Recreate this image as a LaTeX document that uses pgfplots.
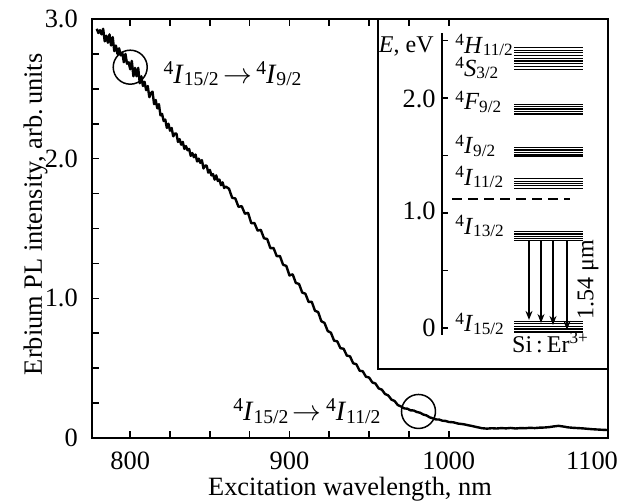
\documentclass[border=0pt]{standalone}
\usepackage{fontspec}
\setmainfont{Liberation Serif}
\usepackage{pgfplots}
\pgfplotsset{compat=1.18}
\usetikzlibrary{arrows.meta}
\newcommand{\scr}[1]{{\fontsize{9.8}{10}\selectfont #1}}
\newcommand{\lvl}[2]{{\fontsize{14}{16}\selectfont\raisebox{0.31em}{\scr{4}}\textit{#1}\raisebox{-0.085em}{\scr{#2}}}}
\newcommand{\sscr}[1]{{\fontsize{8.6}{9}\selectfont #1}}
\newcommand{\ilvl}[2]{{\fontsize{12.3}{14}\selectfont\raisebox{0.31em}{\sscr{4}}\textit{#1}\raisebox{-0.085em}{\sscr{#2}}}}
\begin{document}
\fontsize{13.2}{15}\selectfont
\begin{tikzpicture}
% ---------- inset: energy levels ----------
\begin{axis}[at={(143pt,34.5pt)}, anchor=south west, scale only axis,
  width=115pt, height=175pt, xmin=0, xmax=230, ymin=-0.357, ymax=2.687,
  xtick=\empty, ytick=\empty, axis line style={line width=1pt},
  clip=false, unbounded coords=jump]
% energy axis
\addplot[line width=1pt, no marks] coordinates {(64,-0.06) (64,2.565)};
\addplot[line width=0.8pt, no marks] table {
64 0
70 0
nan nan
64 0.5
70 0.5
nan nan
64 1.0
70 1.0
nan nan
64 1.5
70 1.5
nan nan
64 2.0
70 2.0
nan nan
64 2.5
70 2.5
};
% levels
\addplot[line width=0.55pt, no marks] table {
136 2.437
205 2.437
nan nan
136 2.414
205 2.414
nan nan
136 2.394
205 2.394
nan nan
136 2.371
205 2.371
nan nan
136 2.345
205 2.345
nan nan
136 2.322
205 2.322
nan nan
136 2.298
205 2.298
nan nan
136 2.275
205 2.275
nan nan
136 2.249
205 2.249
nan nan
136 1.945
205 1.945
nan nan
136 1.925
205 1.925
nan nan
136 1.904
205 1.904
nan nan
136 1.883
205 1.883
nan nan
136 1.861
205 1.861
nan nan
136 1.568
205 1.568
nan nan
136 1.548
205 1.548
nan nan
136 1.526
205 1.526
nan nan
136 1.504
205 1.504
nan nan
136 1.489
205 1.489
nan nan
136 1.296
205 1.296
nan nan
136 1.275
205 1.275
nan nan
136 1.255
205 1.255
nan nan
136 1.235
205 1.235
nan nan
136 1.215
205 1.215
nan nan
136 0.837
205 0.837
nan nan
136 0.817
205 0.817
nan nan
136 0.796
205 0.796
nan nan
136 0.778
205 0.778
nan nan
136 0.759
205 0.759
nan nan
136 0.055
205 0.055
nan nan
136 0.035
205 0.035
nan nan
136 0.013
205 0.013
nan nan
136 -0.009
205 -0.009
nan nan
136 -0.030
205 -0.030
nan nan
136 -0.043
205 -0.043
};
% silicon band gap
\addplot[line width=0.7pt, dash pattern=on 5pt off 3pt, no marks] coordinates {(74,1.122) (192,1.122)};
% transitions
\addplot[line width=0.6pt, -{Stealth[length=4.5pt,width=3.5pt]}] coordinates {(151,0.759) (151,0.07)};
\addplot[line width=0.6pt, -{Stealth[length=4.5pt,width=3.5pt]}] coordinates {(163,0.759) (163,0.043)};
\addplot[line width=0.6pt, -{Stealth[length=4.5pt,width=3.5pt]}] coordinates {(175,0.759) (175,0.026)};
\addplot[line width=0.6pt, -{Stealth[length=4.5pt,width=3.5pt]}] coordinates {(189,0.759) (189,-0.017)};
% labels
\node[anchor=east, inner sep=0pt, font=\fontsize{12}{14}\selectfont] at (axis cs:56,2.45) {\textit{E}, eV};
\node[anchor=east, inner sep=0pt] at (axis cs:58,1.99) {2.0};
\node[anchor=east, inner sep=0pt] at (axis cs:58,1.017) {1.0};
\node[anchor=east, inner sep=0pt] at (axis cs:58,0.004) {0};
\node[anchor=base west, inner sep=0pt] at (axis cs:77,2.39) {\ilvl{H}{11/2}};
\node[anchor=base west, inner sep=0pt] at (axis cs:77,2.19) {\ilvl{S}{3/2}};
\node[anchor=base west, inner sep=0pt] at (axis cs:77,1.896) {\ilvl{F}{9/2}};
\node[anchor=base west, inner sep=0pt] at (axis cs:77,1.513) {\ilvl{I}{9/2}};
\node[anchor=base west, inner sep=0pt] at (axis cs:77,1.243) {\ilvl{I}{11/2}};
\node[anchor=base west, inner sep=0pt] at (axis cs:77,0.817) {\ilvl{I}{13/2}};
\node[anchor=base west, inner sep=0pt] at (axis cs:77,-0.035) {\ilvl{I}{15/2}};
\node[rotate=90, inner sep=0pt, font=\fontsize{12}{14}\selectfont] at (axis cs:210,0.42) {1.54 μm};
\node[anchor=base, inner sep=0pt, font=\fontsize{12}{14}\selectfont] at (axis cs:172,-0.215) {Si\,:\,Er\raisebox{0.40em}{\sscr{3+}}};
\end{axis}
% ---------- main axis ----------
\begin{axis}[at={(0pt,0pt)}, anchor=south west, scale only axis,
  width=258pt, height=209.5pt,
  xmin=776, xmax=1100, ymin=0, ymax=3,
  xtick={800,900,1000}, xticklabels={800,900,1000},
  extra x ticks={1100}, extra x tick labels={1100},
  extra x tick style={xticklabel style={xshift=-8pt}},
  minor x tick num=3,
  ytick={0,1,2,3}, yticklabels={0,1.0,2.0,3.0}, minor y tick num=3,
  ytick pos=left, xtick pos=both, tick align=inside,
  major tick length=3.5pt, minor tick length=3.5pt,
  tick style={line width=0.8pt, black},
  axis line style={line width=1pt},
  /pgf/number format/assume math mode=true,
  xticklabel style={yshift=-2.5pt},
  yticklabel style={xshift=-2.5pt},
  xlabel={Excitation wavelength, nm},
  ylabel={Erbium PL intensity, arb.\,units},
  xlabel style={at={(axis description cs:0.5,0)}, yshift=-28.5pt, anchor=base},
  ylabel style={at={(axis description cs:-0.097,0.534)}, anchor=base},
  clip=false]
\addplot[line width=1.2pt, line join=round, no marks] table {
779 2.93
780 2.90
781 2.92
782 2.89
783 2.93
784 2.84
785 2.88
786 2.83
787 2.89
788 2.81
789 2.87
790 2.77
791 2.81
792 2.75
793 2.79
794 2.74
795 2.76
796 2.69
797 2.75
798 2.68
799 2.69
800 2.64
801 2.70
802 2.59
803 2.65
804 2.59
805 2.65
806 2.54
807 2.59
808 2.52
809 2.55
810 2.49
811 2.52
812 2.44
813 2.47
814 2.48
815 2.39
816 2.42
817 2.36
818 2.39
819 2.31
820 2.32
821 2.27
822 2.28
823 2.22
824 2.25
825 2.20
826 2.22
827 2.16
828 2.18
829 2.18
830 2.12
831 2.14
832 2.10
833 2.12
834 2.07
835 2.09
836 2.06
837 2.07
838 2.02
839 2.04
840 2.01
841 2.03
842 1.98
843 2.00
844 1.97
845 1.99
846 1.93
847 1.95
848 1.95
849 1.90
850 1.92
851 1.88
852 1.89
853 1.85
854 1.88
855 1.84
856 1.85
857 1.81
858 1.83
859 1.79
860 1.80
862 1.785
864 1.720
866 1.715
868 1.655
870 1.660
872 1.606
874 1.612
876 1.538
878 1.539
880 1.485
882 1.490
884 1.430
886 1.425
888 1.360
890 1.360
892 1.302
894 1.303
896 1.240
898 1.232
900 1.164
902 1.172
904 1.110
906 1.103
908 1.041
910 1.033
912 0.974
914 0.975
916 0.911
918 0.902
920 0.836
922 0.824
924 0.766
926 0.754
928 0.697
930 0.692
932 0.643
934 0.639
936 0.590
938 0.585
940 0.535
942 0.528
944 0.482
946 0.478
948 0.439
950 0.433
952 0.398
954 0.390
956 0.355
958 0.346
960 0.315
962 0.305
964 0.275
966 0.265
968 0.236
970 0.226
972 0.212
974 0.210
976 0.198
978 0.197
980 0.186
982 0.181
984 0.168
986 0.162
988 0.148
990 0.141
992 0.133
994 0.132
996 0.124
998 0.122
1000 0.115
1003 0.112
1006 0.103
1009 0.099
1012 0.092
1015 0.085
1018 0.077
1021 0.070
1024 0.067
1027 0.070
1030 0.068
1033 0.071
1036 0.069
1039 0.072
1042 0.068
1045 0.071
1048 0.070
1051 0.073
1054 0.071
1057 0.074
1060 0.075
1063 0.078
1066 0.083
1069 0.087
1072 0.082
1075 0.076
1078 0.073
1081 0.071
1084 0.069
1087 0.066
1090 0.063
1093 0.061
1096 0.059
1100 0.057
};
\addplot[only marks, mark=o, mark size=8.5pt, mark options={line width=0.75pt}] coordinates {(800,2.655) (981,0.19)};
\node[anchor=base west, inner sep=0pt] at (axis cs:820.7,2.54) {\lvl{I}{15/2}\,{\fontsize{14}{16}\selectfont$\rightarrow$}\,\lvl{I}{9/2}};
\node[anchor=base west, inner sep=0pt] at (axis cs:864.5,0.124) {\lvl{I}{15/2}\,{\fontsize{14}{16}\selectfont$\rightarrow$}\,\lvl{I}{11/2}};
\end{axis}
\pgfresetboundingbox
\path (-46pt,-32pt) rectangle (264pt,219pt);
\end{tikzpicture}
\end{document}
